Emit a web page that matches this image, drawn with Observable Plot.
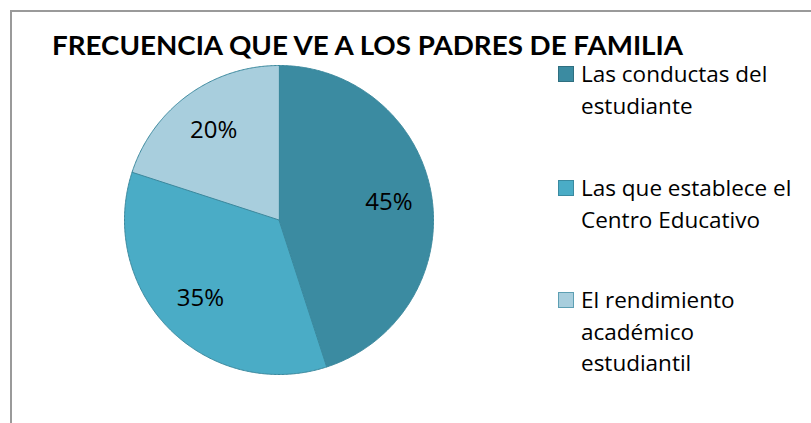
<!DOCTYPE html>
<html>
<head>
<meta charset="utf-8">
<script src="https://cdn.jsdelivr.net/npm/d3@7"></script>
<script src="https://cdn.jsdelivr.net/npm/@observablehq/plot@0.6"></script>
<style>
  html, body { margin: 0; padding: 0; background: #fff; }
  #wrap { position: relative; width: 811px; height: 423px; overflow: hidden; font-family: "Open Sans", Lato, sans-serif; color: #000; }
  #border { position: absolute; left: 10px; top: 10px; width: 820px; height: 430px; border-left: 2px solid #9a9a9a; border-top: 2px solid #9a9a9a; }
  #chart { position: absolute; left: 0; top: 0; }
  #title { position: absolute; left: 52px; top: 0; white-space: nowrap; font-family: Lato, sans-serif; font-weight: 700; font-size: 27px; line-height: 1; transform-origin: left top; }
  .entry { position: absolute; left: 581px; font-size: 22.5px; line-height: 31.5px; white-space: nowrap; }
  .sw { position: absolute; left: -23px; top: 8px; width: 14px; height: 14px; border: 1px solid; }
</style>
</head>
<body>
<div id="wrap">
  <div id="border"></div>
  <div id="chart"></div>
  <span id="title"></span>
</div>
<script>
const title = "FRECUENCIA QUE VE A LOS PADRES DE FAMILIA";
const categories = ["Las conductas del estudiante", "Las que establece el Centro Educativo", "El rendimiento académico estudiantil"];
const legendLines = [["Las conductas del", "estudiante"], ["Las que establece el", "Centro Educativo"], ["El rendimiento", "académico", "estudiantil"]];
const values = [45, 35, 20];
const colors = ["#3b8ba1", "#4aacc6", "#a8cedd"];
const swatchStroke = ["#2f6f80", "#3a8aa0", "#5d9fb3"];

// build slices from the values (clockwise from 12 o'clock)
const total = d3.sum(values);
const slices = [];
const labels = [];
let acc = 0;
values.forEach((v, i) => {
  const a0 = acc / total * 2 * Math.PI;
  acc += v;
  const a1 = acc / total * 2 * Math.PI;
  slices.push({cat: categories[i], x: 0, y: 0});
  const n = Math.max(2, Math.ceil((a1 - a0) / (Math.PI / 360)));
  for (let k = 0; k <= n; k++) {
    const a = a0 + (a1 - a0) * k / n;
    slices.push({cat: categories[i], x: Math.sin(a), y: Math.cos(a)});
  }
  const m = (a0 + a1) / 2;
  labels.push({x: 0.72 * Math.sin(m), y: 0.72 * Math.cos(m), text: Math.round(v / total * 100) + "%"});
});

const plot = Plot.plot({
  width: 811,
  height: 423,
  margin: 0,
  x: {domain: [-1, 1], range: [124, 433], axis: null},
  y: {domain: [-1, 1], range: [374, 65], axis: null},
  color: {domain: categories, range: colors},
  style: {background: "transparent", overflow: "visible"},
  marks: [
    Plot.line(slices, {x: "x", y: "y", z: "cat", fill: "cat", stroke: "#3a889d", strokeWidth: 1, curve: "linear-closed"}),
    Plot.text(labels, {x: "x", y: "y", text: "text", fontSize: 24, fill: "#000", fontFamily: "'Open Sans', sans-serif"})
  ]
});
document.getElementById("chart").appendChild(plot);

// title, fitted to its width in the reference
const t = document.getElementById("title");
t.textContent = title;
const w = t.getBoundingClientRect().width;
t.style.top = (58 - 27 * 0.987 - 0.5) + "px";
t.style.transform = `scaleX(${631 / w})`;

// legend
const tops = [58, 172, 284];
const wrap = document.getElementById("wrap");
legendLines.forEach((lines, i) => {
  const e = document.createElement("div");
  e.className = "entry";
  e.style.top = tops[i] + "px";
  const sw = document.createElement("div");
  sw.className = "sw";
  sw.style.background = colors[i];
  sw.style.borderColor = swatchStroke[i];
  e.appendChild(sw);
  lines.forEach((l, j) => {
    if (j) e.appendChild(document.createElement("br"));
    e.appendChild(document.createTextNode(l));
  });
  wrap.appendChild(e);
});
</script>
</body>
</html>
